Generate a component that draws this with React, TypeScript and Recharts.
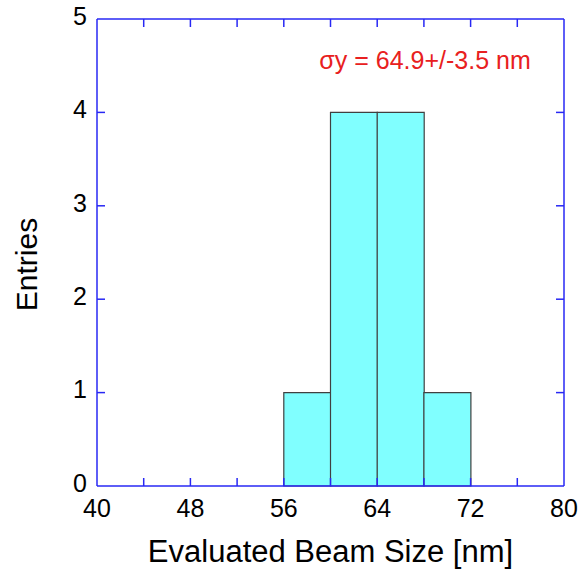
import {
  BarChart,
  Bar,
  XAxis,
  YAxis,
  ReferenceLine,
  ReferenceDot,
  Label,
} from 'recharts';

// histogram bins (width 4 nm, given by centre) and entries per bin
const BIN_CENTERS = [42, 46, 50, 54, 58, 62, 66, 70, 74, 78];
const ENTRIES = [0, 0, 0, 0, 1, 4, 4, 1, 0, 0];
const X_TICKS = [40, 44, 48, 52, 56, 60, 64, 68, 72, 76, 80];
const Y_TICKS = [0, 1, 2, 3, 4, 5];
const ANNOTATION = 'σy = 64.9+/-3.5 nm';

const W = 578;
const H = 570;
const PLOT = { left: 97, right: 564, top: 19, bottom: 486 };
const FONT = '"Liberation Sans", Arial, sans-serif';
const AXIS = '#2828f4';

// inward tick length (8px) in data units
const xTickLen = (8 / (PLOT.right - PLOT.left)) * 40;
const yTickLen = (8 / (PLOT.bottom - PLOT.top)) * 5;

const data = BIN_CENTERS.map((x, i) => ({ x, entries: ENTRIES[i] }));

export default function App() {
  return (
    <div style={{ position: 'absolute', left: 0, top: 0, background: '#fff' }}>
      <BarChart
        width={W}
        height={H}
        data={data}
        margin={{ top: 0, right: 0, bottom: 0, left: 0 }}
        barCategoryGap={0}
        barGap={0}
        style={{ fontFamily: FONT }}
      >
        <XAxis
          xAxisId="num"
          dataKey="x"
          type="number"
          domain={[40, 80]}
          ticks={X_TICKS}
          allowDataOverflow
          height={H - PLOT.bottom}
          axisLine={{ stroke: AXIS, strokeWidth: 1.5 }}
          tickLine={false}
          tickSize={0}
          tickMargin={13}
          interval={0}
          fontSize={25}
          tickFormatter={(v: number) => (v % 8 === 0 ? String(v) : '')}
          tick={{ fontSize: 25, fill: '#000' }}
        >
          <Label
            value="Evaluated Beam Size [nm]"
            position="insideBottom"
            offset={8}
            fontSize={31}
            fill="#000"
          />
        </XAxis>
        <XAxis
          xAxisId="top"
          orientation="top"
          dataKey="x"
          type="number"
          domain={[40, 80]}
          allowDataOverflow
          height={PLOT.top}
          axisLine={{ stroke: AXIS, strokeWidth: 1.5 }}
          tick={false}
          tickLine={false}
        />
        <YAxis
          yAxisId="left"
          type="number"
          domain={[0, 5]}
          ticks={Y_TICKS}
          width={PLOT.left}
          axisLine={{ stroke: AXIS, strokeWidth: 1.5 }}
          tickLine={false}
          tickSize={0}
          tickMargin={10}
          interval={0}
          fontSize={25}
          tick={{ fontSize: 25, fill: '#000', dy: -3 }}
        >
          <Label
            content={({ viewBox }: any) => {
              const cx = 26;
              const cy = viewBox.y + viewBox.height / 2 + 12;
              return (
                <text
                  x={cx}
                  y={cy}
                  transform={`rotate(-90 ${cx} ${cy})`}
                  textAnchor="middle"
                  dominantBaseline="central"
                  fontSize={30}
                  fill="#000"
                >
                  Entries
                </text>
              );
            }}
          />
        </YAxis>
        <YAxis
          yAxisId="right"
          orientation="right"
          type="number"
          domain={[0, 5]}
          width={W - PLOT.right}
          axisLine={{ stroke: AXIS, strokeWidth: 1.5 }}
          tick={false}
          tickLine={false}
        />
        <Bar
          xAxisId="num"
          yAxisId="left"
          dataKey="entries"
          fill="#80ffff"
          stroke="#404040"
          strokeWidth={1.2}
          isAnimationActive={false}
        />
        {X_TICKS.slice(1, -1).map((x) => (
          <ReferenceLine
            key={`xb${x}`}
            xAxisId="num"
            yAxisId="left"
            segment={[{ x, y: 0 }, { x, y: yTickLen }]}
            stroke={AXIS}
            strokeWidth={1.5}
          />
        ))}
        {X_TICKS.slice(1, -1).map((x) => (
          <ReferenceLine
            key={`xt${x}`}
            xAxisId="num"
            yAxisId="left"
            segment={[{ x, y: 5 }, { x, y: 5 - yTickLen }]}
            stroke={AXIS}
            strokeWidth={1.5}
          />
        ))}
        {Y_TICKS.slice(1, -1).map((y) => (
          <ReferenceLine
            key={`yl${y}`}
            xAxisId="num"
            yAxisId="left"
            segment={[{ x: 40, y }, { x: 40 + xTickLen, y }]}
            stroke={AXIS}
            strokeWidth={1.5}
          />
        ))}
        {Y_TICKS.slice(1, -1).map((y) => (
          <ReferenceLine
            key={`yr${y}`}
            xAxisId="num"
            yAxisId="left"
            segment={[{ x: 80, y }, { x: 80 - xTickLen, y }]}
            stroke={AXIS}
            strokeWidth={1.5}
          />
        ))}
        <ReferenceDot
          xAxisId="num"
          yAxisId="left"
          x={68.1}
          y={4.56}
          r={0}
          fill="none"
          stroke="none"
          label={{ value: ANNOTATION, position: 'center', fontSize: 25, fill: '#e82020' }}
        />
      </BarChart>
    </div>
  );
}
